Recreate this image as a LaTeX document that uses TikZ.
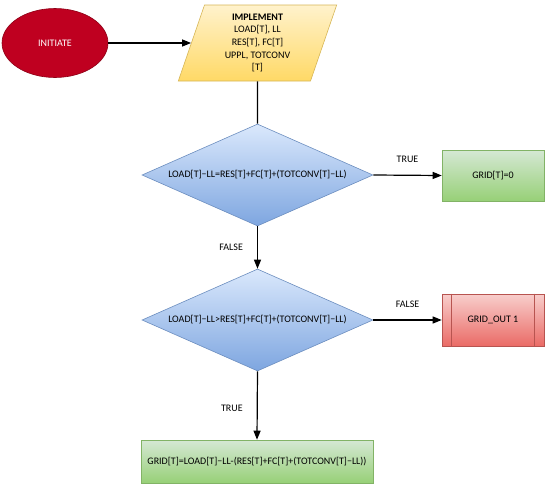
\documentclass[tikz,border=0pt]{standalone}
\usepackage{fontspec}
\setmainfont{Carlito}
\usetikzlibrary{shapes.geometric,arrows.meta}
\definecolor{redfill}{HTML}{BF0020}
\definecolor{redline}{HTML}{8E0016}
\definecolor{yelTop}{HTML}{FFF2CC}
\definecolor{yelBot}{HTML}{FFD966}
\definecolor{yelLine}{HTML}{D6B656}
\definecolor{bluTop}{HTML}{DAE8FC}
\definecolor{bluBot}{HTML}{7EA6E0}
\definecolor{bluLine}{HTML}{6C8EBF}
\definecolor{grnTop}{HTML}{D5E8D4}
\definecolor{grnBot}{HTML}{97D077}
\definecolor{grnLine}{HTML}{82B366}
\definecolor{pnkTop}{HTML}{F8CECC}
\definecolor{pnkBot}{HTML}{EA6B66}
\definecolor{pnkLine}{HTML}{B85450}
\tikzset{
  base/.style={font=\fontsize{10}{12.6}\selectfont, align=center, inner sep=0pt, line width=0.6pt},
  startnode/.style={base, ellipse, fill=redfill, draw=redline, text=white, minimum width=106pt, minimum height=69pt},
  ionode/.style={base, trapezium, trapezium left angle=74.5, trapezium right angle=105.5, trapezium stretches=true,
     top color=yelTop, bottom color=yelBot, draw=yelLine, minimum width=159pt, minimum height=76pt},
  decnode/.style={base, diamond, aspect=2.265, top color=bluTop, bottom color=bluBot, draw=bluLine, minimum width=231pt, minimum height=102pt},
  okbox/.style={base, rectangle, top color=grnTop, bottom color=grnBot, draw=grnLine},
  badbox/.style={base, rectangle, top color=pnkTop, bottom color=pnkBot, draw=pnkLine, minimum width=102pt, minimum height=52pt},
  conn/.style={line width=1.2pt, -{Triangle[length=9pt,width=7pt]}},
  plain/.style={line width=1.2pt},
  lbl/.style={font=\fontsize{10}{11}\selectfont, inner sep=0pt}
}
\begin{document}
\begin{tikzpicture}[x=1pt,y=-1pt]
\useasboundingbox (0,0) rectangle (550,490);
\node[startnode] (init) at (55,43) {INITIATE};
\node[ionode] (impl) at (257.5,43) {\textbf{IMPLEMENT}\\LOAD[T], LL\\RES[T], FC[T]\\UPPL, TOTCONV\\{}[T]};
\node[decnode] (d1) at (257.5,175) {LOAD[T]−LL=RES[T]+FC[T]+(TOTCONV[T]−LL)};
\node[okbox, minimum width=102pt, minimum height=51pt] (g0) at (493,175.5) {GRID[T]=0};
\node[decnode] (d2) at (257.5,320) {LOAD[T]−LL>RES[T]+FC[T]+(TOTCONV[T]−LL)};
\node[badbox] (gout) at (493,320) {GRID\_OUT 1};
\draw[draw=pnkLine, line width=0.6pt] ([xshift=10pt]gout.north west) -- ([xshift=10pt]gout.south west);
\draw[draw=pnkLine, line width=0.6pt] ([xshift=-10pt]gout.north east) -- ([xshift=-10pt]gout.south east);
\node[okbox, minimum width=232pt, minimum height=43pt] (g1) at (257,461.5) {GRID[T]=LOAD[T]−LL-(RES[T]+FC[T]+(TOTCONV[T]−LL))};
\draw[conn] (init) -- (init -| impl.west);
\draw[plain] (impl.south) -- (d1.north);
\draw[conn] (d1.east) -- node[lbl, above=12pt] {TRUE} (g0.west);
\draw[conn] (d1.south) -- node[lbl, left=14pt] {FALSE} (d2.north);
\draw[conn] (d2.east) -- node[lbl, above=12pt] {FALSE} (gout.west);
\draw[conn] (d2.south) -- node[lbl, left=14pt, yshift=-3pt] {TRUE} (g1.north);
\end{tikzpicture}
\end{document}
